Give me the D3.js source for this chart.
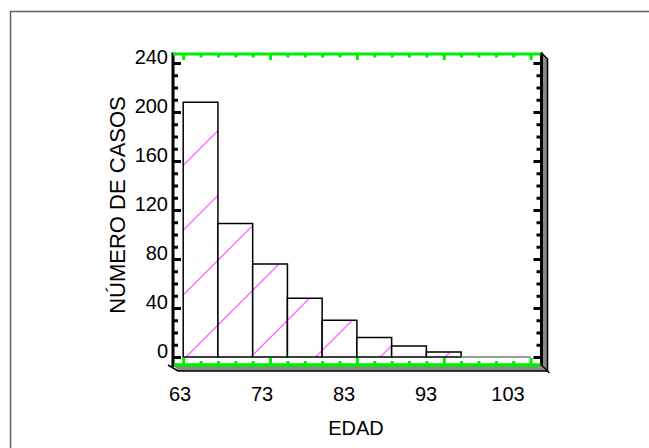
<!DOCTYPE html>
<html><head><meta charset="utf-8">
<script src="https://cdn.jsdelivr.net/npm/d3@7"></script>
<style>body{margin:0;background:#fff}svg{display:block}text{font-family:"Liberation Sans",Arial,sans-serif;fill:#000}</style>
</head><body>
<svg id="c" width="649" height="448"></svg>
<script>
const binStarts = [63,67,71,75,79,83,87,91,95,99];
const binWidth = 4;
const counts = [208,109,76,48,30,16,9,4,0,0];
const yTickValues = [0,40,80,120,160,200,240];
const xTickValues = [63,73,83,93,103];
const xLabel = "EDAD";
const yLabel = "NÚMERO DE CASOS";

const svg = d3.select("#c");
const x = d3.scaleLinear().domain([63,103]).range([183.2,530.6]);
const y = d3.scaleLinear().domain([0,240]).range([357,63]);
const xText = d3.scaleLinear().domain([63,103]).range([180,508]);

// outer frame
svg.append("rect").attr("x",10.5).attr("y",11.5).attr("width",700).attr("height",500)
  .attr("fill","none").attr("stroke","#606060").attr("stroke-width",1.5);

const L = 173, R = 541.5, T = 54, B = 365, D = 6;

// hatch pattern
const defs = svg.append("defs");
const P = 64.8;
const pat = defs.append("pattern").attr("id","hatch").attr("patternUnits","userSpaceOnUse")
  .attr("x",24.6).attr("y",0).attr("width",P).attr("height",P);
pat.append("rect").attr("width",P).attr("height",P).attr("fill","#fff");
pat.append("path").attr("d",`M0,${P}L${P},0M-3,3L3,-3M${P-3},${P+3}L${P+3},${P-3}`)
  .attr("stroke","#ff33ff").attr("stroke-width",1);

// 3D shadow: right wall and floor
svg.append("path").attr("d",`M${R},${T}L${R+D},${T+D}L${R+D},${B+D}L${R},${B}Z`).attr("fill","#8a8a8a");
svg.append("path").attr("d",`M${L},${B}L${L+D},${B+D}L${R+D},${B+D}L${R},${B}Z`).attr("fill","#8a8a8a");
svg.append("path").attr("d",`M${R},${T-1}L${R+D},${T+D-1}V${B+D}H${L+D-1}L${L-5},${B}`)
  .attr("fill","none").attr("stroke","#000").attr("stroke-width",1.6);
svg.append("path").attr("d",`M${R},${B}L${R+D+2},${B+D+2}`).attr("stroke","#000").attr("stroke-width",1.4);

// bars
svg.append("g").selectAll("path").data(binStarts).join("path")
  .attr("d",(b,i)=>`M${x(b)},${y(0)}V${y(counts[i])}H${x(b+binWidth)}V${y(0)}Z`)
  .attr("fill","url(#hatch)")
  .attr("stroke",(b,i)=>counts[i]===0?"#777":"#000").attr("stroke-width",1.5);

function styleAxis(g,color){
  g.select(".domain").remove();
  g.selectAll(".tick line").attr("stroke",color).attr("stroke-width",3);
  g.selectAll(".tick text").remove();
}
const yMinor = d3.range(0,241,10).filter(v=>v%40!==0);
const xMinor = d3.range(63,104,2).filter(v=>(v-63)%10!==0);

// left axis (black, ticks pointing right)
svg.append("line").attr("x1",L).attr("x2",L).attr("y1",T-1.5).attr("y2",B+2).attr("stroke","#000").attr("stroke-width",3);
svg.append("g").attr("transform",`translate(${L},0)`).call(d3.axisRight(y).tickValues(yTickValues).tickSize(8)).call(g=>styleAxis(g,"#000"));
svg.append("g").attr("transform",`translate(${L},0)`).call(d3.axisRight(y).tickValues(yMinor).tickSize(5)).call(g=>styleAxis(g,"#000"));

// right axis (black, ticks pointing left)
svg.append("line").attr("x1",R).attr("x2",R).attr("y1",T-1.5).attr("y2",B+1).attr("stroke","#000").attr("stroke-width",3);
svg.append("g").attr("transform",`translate(${R},0)`).call(d3.axisLeft(y).tickValues(yTickValues).tickSize(8)).call(g=>styleAxis(g,"#000"));
svg.append("g").attr("transform",`translate(${R},0)`).call(d3.axisLeft(y).tickValues(yMinor).tickSize(5)).call(g=>styleAxis(g,"#000"));

// top axis (green, ticks down)
const green = "#00ee00";
svg.append("line").attr("x1",L).attr("x2",R-1).attr("y1",T).attr("y2",T).attr("stroke",green).attr("stroke-width",3);
svg.append("g").attr("transform",`translate(0,${T})`).call(d3.axisBottom(x).tickValues(xTickValues).tickSize(6)).call(g=>styleAxis(g,green));
svg.append("g").attr("transform",`translate(0,${T})`).call(d3.axisBottom(x).tickValues(xMinor).tickSize(3.5)).call(g=>styleAxis(g,green));

// bottom axis (green, ticks up)
svg.append("line").attr("x1",L+1).attr("x2",R-1).attr("y1",B).attr("y2",B).attr("stroke",green).attr("stroke-width",3.5);
svg.append("g").attr("transform",`translate(0,${B})`).call(d3.axisTop(x).tickValues(xTickValues).tickSize(7)).call(g=>styleAxis(g,green));
svg.append("g").attr("transform",`translate(0,${B})`).call(d3.axisTop(x).tickValues(xMinor).tickSize(4)).call(g=>styleAxis(g,green));

// tick labels
svg.append("g").selectAll("text").data(yTickValues).join("text")
  .attr("x",168).attr("y",v=>y(v)-6).attr("dy","0.36em").attr("text-anchor","end")
  .style("font-size","20px").text(v=>v);
svg.append("g").selectAll("text").data(xTickValues).join("text")
  .attr("x",v=>xText(v)).attr("y",401).attr("text-anchor","middle")
  .style("font-size","20px").text(v=>v);

// axis titles
svg.append("text").attr("x",356).attr("y",435).attr("text-anchor","middle").style("font-size","20px").text(xLabel);
svg.append("text").attr("transform","translate(125,205) rotate(-90)").attr("text-anchor","middle")
  .style("font-size","22px").text(yLabel);
</script>
</body></html>
